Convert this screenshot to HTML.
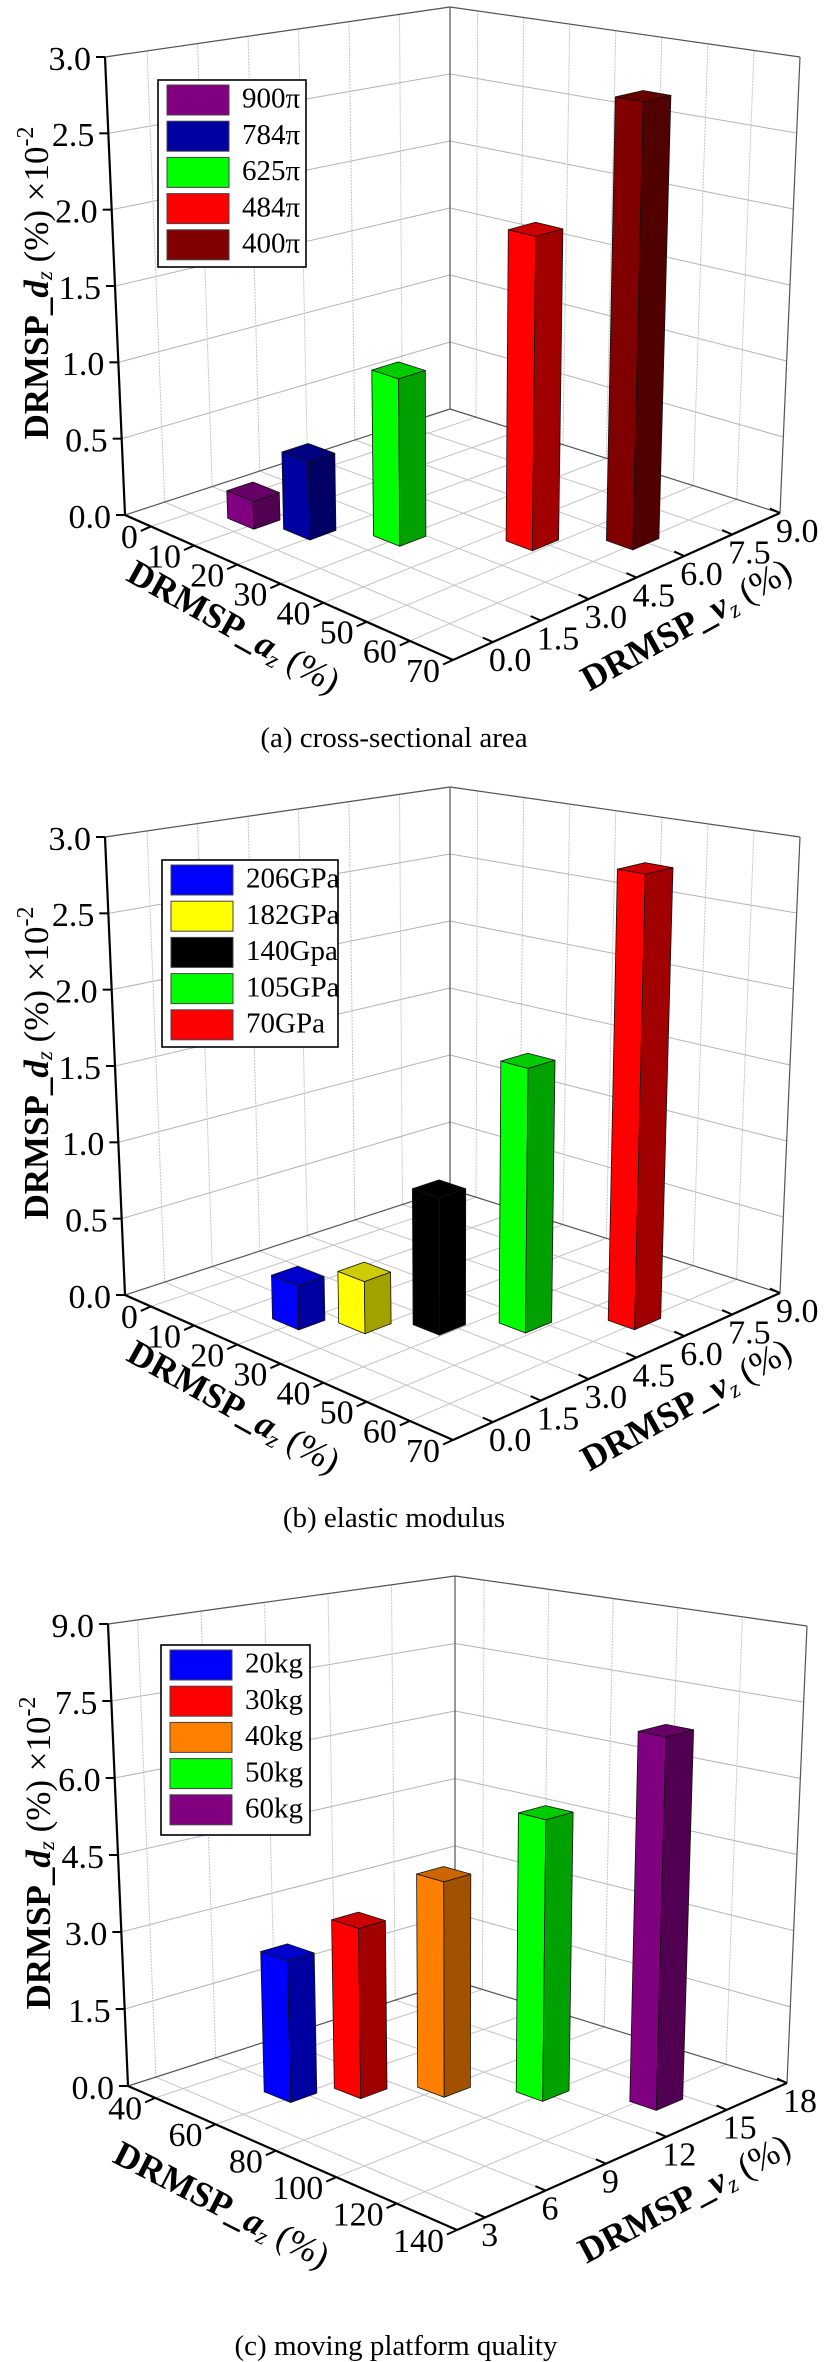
<!DOCTYPE html>
<html><head><meta charset="utf-8"><style>
html,body{margin:0;padding:0;background:#fff;}
svg{display:block;font-family:"Liberation Serif","DejaVu Serif",serif;}
</style></head><body>
<svg id="fig" width="832" height="2362" viewBox="0 0 832 2362" xmlns="http://www.w3.org/2000/svg">
<rect x="0" y="0" width="832" height="2362" fill="#fff"/>
<g id="pa"></g>
<g id="pb"></g>
<g id="pc"></g>

<!-- axis titles panel a -->
<text transform="translate(40,283) rotate(-90)" text-anchor="middle" font-size="35" dominant-baseline="middle"><tspan font-weight="bold">DRMSP_</tspan><tspan font-weight="bold" font-style="italic">d</tspan><tspan font-size="23" font-style="italic" dy="7">z</tspan><tspan dy="-7"> (%)</tspan><tspan> ×10</tspan><tspan font-size="24" dy="-13">-2</tspan></text>
<text transform="translate(232,630) rotate(29)" text-anchor="middle" font-size="36" dominant-baseline="middle"><tspan font-weight="bold">DRMSP_</tspan><tspan font-weight="bold" font-style="italic">a</tspan><tspan font-size="24" font-style="italic" dy="8">z</tspan><tspan dy="-8"> (%)</tspan></text>
<text transform="translate(688,628) rotate(-29)" text-anchor="middle" font-size="36" dominant-baseline="middle"><tspan font-weight="bold">DRMSP_</tspan><tspan font-weight="bold" font-style="italic">v</tspan><tspan font-size="24" font-style="italic" dy="8">z</tspan><tspan dy="-8"> (%)</tspan></text>
<text x="394" y="747" text-anchor="middle" font-size="29">(a) cross-sectional area</text>

<!-- panel b -->
<text transform="translate(40,1063) rotate(-90)" text-anchor="middle" font-size="35" dominant-baseline="middle"><tspan font-weight="bold">DRMSP_</tspan><tspan font-weight="bold" font-style="italic">d</tspan><tspan font-size="23" font-style="italic" dy="7">z</tspan><tspan dy="-7"> (%)</tspan><tspan> ×10</tspan><tspan font-size="24" dy="-13">-2</tspan></text>
<text transform="translate(232,1410) rotate(29)" text-anchor="middle" font-size="36" dominant-baseline="middle"><tspan font-weight="bold">DRMSP_</tspan><tspan font-weight="bold" font-style="italic">a</tspan><tspan font-size="24" font-style="italic" dy="8">z</tspan><tspan dy="-8"> (%)</tspan></text>
<text transform="translate(688,1408) rotate(-29)" text-anchor="middle" font-size="36" dominant-baseline="middle"><tspan font-weight="bold">DRMSP_</tspan><tspan font-weight="bold" font-style="italic">v</tspan><tspan font-size="24" font-style="italic" dy="8">z</tspan><tspan dy="-8"> (%)</tspan></text>
<text x="394" y="1527" text-anchor="middle" font-size="29">(b) elastic modulus</text>

<!-- panel c -->
<text transform="translate(42,1853) rotate(-90)" text-anchor="middle" font-size="35" dominant-baseline="middle"><tspan font-weight="bold">DRMSP_</tspan><tspan font-weight="bold" font-style="italic">d</tspan><tspan font-size="23" font-style="italic" dy="7">z</tspan><tspan dy="-7"> (%)</tspan><tspan> ×10</tspan><tspan font-size="24" dy="-13">-2</tspan></text>
<text transform="translate(220,2208) rotate(27)" text-anchor="middle" font-size="36" dominant-baseline="middle"><tspan font-weight="bold">DRMSP_</tspan><tspan font-weight="bold" font-style="italic">a</tspan><tspan font-size="24" font-style="italic" dy="8">z</tspan><tspan dy="-8"> (%)</tspan></text>
<text transform="translate(686,2202) rotate(-28)" text-anchor="middle" font-size="36" dominant-baseline="middle"><tspan font-weight="bold">DRMSP_</tspan><tspan font-weight="bold" font-style="italic">v</tspan><tspan font-size="24" font-style="italic" dy="8">z</tspan><tspan dy="-8"> (%)</tspan></text>
<text x="396" y="2355" text-anchor="middle" font-size="29">(c) moving platform quality</text>
</svg>
<script>
// ---- data ----
const catsA = ['900π','784π','625π','484π','400π'];
const posA_a = [8.4, 17.6, 29.5, 46.4, 58.6];
const posA_v = [0.85, 1.36, 2.57, 4.44, 5.93];
const valsA = [0.18, 0.50, 1.07, 2.0, 2.85];
const catsB = ['206GPa','182GPa','140Gpa','105GPa','70GPa'];
const posB_a = [19.3, 27.7, 36.6, 46.2, 58.8];
const posB_v = [0.78, 1.72, 2.85, 4.25, 5.96];
const valsB = [0.28, 0.33, 0.87, 1.68, 2.9];
const catsC = ['20kg','30kg','40kg','50kg','60kg'];
const posC_a = [57.7, 67, 80, 98.6, 122.8];
const posC_v = [5.7, 7.8, 10.0, 12.1, 14.1];
const valsC = [2.73, 3.3, 4.19, 5.46, 7.17];
const zTicksAB = [0, 0.5, 1.0, 1.5, 2.0, 2.5, 3.0];
const zTicksC = [0, 1.5, 3.0, 4.5, 6.0, 7.5, 9.0];
const aTicksAB = [0, 10, 20, 30, 40, 50, 60, 70];
const aTicksC = [40, 60, 80, 100, 120, 140];
const vTicksAB = [0, 1.5, 3.0, 4.5, 6.0, 7.5, 9.0];
const vTicksC = [3, 6, 9, 12, 15, 18];
const colA = ['#800080','#0000a0','#00ff00','#ff0000','#800000'];
const colB = ['#0000ff','#ffff00','#000000','#00ff00','#ff0000'];
const colC = ['#0000ff','#ff0000','#ff8000','#00ff00','#800080'];

const NS = 'http://www.w3.org/2000/svg';
function mk(parent, tag, attrs){
  const e = document.createElementNS(NS, tag);
  for (const k in attrs) e.setAttribute(k, attrs[k]);
  parent.appendChild(e);
  return e;
}
function shade(hex, f){
  const n = parseInt(hex.slice(1),16);
  const r = Math.round(((n>>16)&255)*f), g = Math.round(((n>>8)&255)*f), b = Math.round((n&255)*f);
  return 'rgb('+r+','+g+','+b+')';
}
function fmt(t, dec){ return dec ? t.toFixed(1) : String(t); }

function panel(id, key, G, cats, pa, pv, vals, cols, zT, aT, vT, dec, legend){
  const root = document.getElementById(id);
  const bil = (u,w,k) => G.L[k]*(1-u)*(1-w) + G.F[k]*u*(1-w) + G.R[k]*u*w + G.B[k]*(1-u)*w;
  const hL = [G.Lt[0]-G.L[0], G.Lt[1]-G.L[1]], hB = [G.Bt[0]-G.B[0], G.Bt[1]-G.B[1]], hR = [G.Rt[0]-G.R[0], G.Rt[1]-G.R[1]], hF = G.hF;
  const hb = (u,w,k) => hL[k]*(1-u)*(1-w) + hF[k]*u*(1-w) + hR[k]*u*w + hB[k]*(1-u)*w;
  const Puw = (u,w,z) => { const s = z/G.zmax; return [bil(u,w,0)+s*hb(u,w,0), bil(u,w,1)+s*hb(u,w,1)]; };
  const U = a => (a-G.amin)/(G.amax-G.amin);
  const W = v => (v-G.vmin)/(G.vmax-G.vmin);
  const P = (a,v,z) => Puw(U(a),W(v),z);
  const line = (p,q,st,sw,dash) => { const l = mk(root,'line',{x1:p[0],y1:p[1],x2:q[0],y2:q[1],stroke:st,'stroke-width':sw}); if(dash) l.setAttribute('stroke-dasharray',dash); return l; };

  // wall/floor grid
  zT.forEach((z,i)=>{ if(z===0) return;
    let l = line(Puw(0,0,z), Puw(0,1,z), '#b4b4b4', 1);
    
    
    l = line(Puw(0,1,z), Puw(1,1,z), '#b4b4b4', 1);
    
    
  });
  vT.forEach(v=>{ const w=W(v); if (w>0.999) return;
    let l = line(Puw(0,w,0), Puw(0,w,G.zmax), '#c4c4c4', 1, '2,1');
    
    
    l = line(Puw(0,w,0), Puw(1,w,0), '#c4c4c4', 1);
    
    
  });
  aT.forEach(a=>{ const u=U(a); if (u>0.999) return;
    let l = line(Puw(u,1,0), Puw(u,1,G.zmax), '#c4c4c4', 1, '2,1');
    
    
    l = line(Puw(u,0,0), Puw(u,1,0), '#c4c4c4', 1);
    
    
  });
  // box edges
  [[[0,0,G.zmax],[0,1,G.zmax]],[[0,1,G.zmax],[1,1,G.zmax]],[[0,1,0],[0,1,G.zmax]],[[1,1,0],[1,1,G.zmax]],[[0,0,0],[0,1,0]],[[0,1,0],[1,1,0]]].forEach(e=>{
    const l = line(Puw(...e[0]), Puw(...e[1]), '#555', 1.2);
    
    
  });

  // bars
  const du = 0.04, dw = 0.04;
  const order = cats.map((c,i)=>i).sort((i,j)=>(U(pa[i])-W(pv[i]))-(U(pa[j])-W(pv[j])));
  order.forEach(i=>{
    const u=U(pa[i]), w=W(pv[i]), h=vals[i];
    const g = mk(root,'g',{});
    
    
    const pts = arr => arr.map(p=>p[0].toFixed(1)+','+p[1].toFixed(1)).join(' ');
    const c = cols[i];
    const f1 = mk(g,'polygon',{points:pts([Puw(u-du,w-dw,0),Puw(u+du,w-dw,0),Puw(u+du,w-dw,h),Puw(u-du,w-dw,h)]),fill:c,stroke:'#111','stroke-width':0.8,'stroke-linejoin':'round'});
    
    
    const f2 = mk(g,'polygon',{points:pts([Puw(u+du,w-dw,0),Puw(u+du,w+dw,0),Puw(u+du,w+dw,h),Puw(u+du,w-dw,h)]),fill:shade(c,0.63),stroke:'#111','stroke-width':0.8,'stroke-linejoin':'round'});
    
    
    const f3 = mk(g,'polygon',{points:pts([Puw(u-du,w-dw,h),Puw(u+du,w-dw,h),Puw(u+du,w+dw,h),Puw(u-du,w+dw,h)]),fill:shade(c,0.8),stroke:'#111','stroke-width':0.8,'stroke-linejoin':'round'});
    
    
  });

  // axes
  let ax = line(Puw(0,0,0), Puw(0,0,G.zmax), '#000', 2.2);
  
  
  ax = line(Puw(0,0,0), Puw(1,0,0), '#000', 2.2);
  
  
  ax = line(Puw(1,0,0), Puw(1,1,0), '#000', 2.2);
  
  

  zT.forEach(z=>{
    const p = Puw(0,0,z);
    const t = line(p,[p[0]-9,p[1]],'#000',2);
    
    
    const tx = mk(root,'text',{x:p[0]-14,y:p[1]+5,'text-anchor':'end','dominant-baseline':'middle','font-size':34});
    tx.textContent = z.toFixed(1);
    
    
  });
  const dFR = [G.F[0]-G.R[0], G.F[1]-G.R[1]], nFR = Math.hypot(...dFR);
  aT.forEach(a=>{
    const p = P(a,G.vmin,0);
    const t = line(p,[p[0]+dFR[0]/nFR*11,p[1]+dFR[1]/nFR*11],'#000',2);
    
    
    const tx = mk(root,'text',{x:p[0]-13,y:p[1]+14,'text-anchor':'end','dominant-baseline':'middle','font-size':34});
    tx.textContent = fmt(a,false);
    
    
  });
  const dFL = [G.L[0]-G.F[0], G.L[1]-G.F[1]], nFL = Math.hypot(...dFL);
  vT.forEach(v=>{
    const p = P(G.amax,v,0);
    const t = line(p,[p[0]+dFL[0]/nFL*11,p[1]+dFL[1]/nFL*11],'#000',2);
    
    
    const tx = mk(root,'text',{x:p[0]-4,y:p[1]+21,'text-anchor':'start','dominant-baseline':'middle','font-size':34});
    tx.textContent = fmt(v,dec);
    
    
  });

  // legend
  const lg = mk(root,'g',{});
  
  
  const box = mk(lg,'rect',{x:legend.x,y:legend.y,width:legend.w,height:legend.h,fill:'#fff',stroke:'#000','stroke-width':1.6});
  
  
  cats.forEach((c,i)=>{
    const y = legend.y + 5 + i*36.2;
    const sw = mk(lg,'rect',{x:legend.x+9,y:y,width:62,height:30,fill:cols[i],stroke:'#444','stroke-width':1});
    
    
    const tx = mk(lg,'text',{x:legend.x+84,y:y+16,'dominant-baseline':'middle','font-size':29});
    tx.textContent = c;
    
    
  });
}

const GA = {L:[125,515],F:[453,660],R:[780,513],B:[450,409],Lt:[105,57],Bt:[450,7],Rt:[800,57],hF:[0,-520],amin:-6,amax:70,vmin:-1.25,vmax:9,zmax:3};
const off = (G,dy) => ({...G, L:[G.L[0],G.L[1]+dy], F:[G.F[0],G.F[1]+dy], R:[G.R[0],G.R[1]+dy], B:[G.B[0],G.B[1]+dy], Lt:[G.Lt[0],G.Lt[1]+dy], Bt:[G.Bt[0],G.Bt[1]+dy], Rt:[G.Rt[0],G.Rt[1]+dy]});
const GB = off(GA, 780);
const GC = {L:[128,2086],F:[457,2230],R:[787,2083],B:[455,1981],Lt:[108,1624],Bt:[455,1576],Rt:[807,1626],hF:[0,-522],amin:31,amax:140,vmin:1.6,vmax:18,zmax:9};

panel('pa','panel-a',GA,catsA,posA_a,posA_v,valsA,colA,zTicksAB,aTicksAB,vTicksAB,true,{x:158,y:80,w:148,h:187});
panel('pb','panel-b',GB,catsB,posB_a,posB_v,valsB,colB,zTicksAB,aTicksAB,vTicksAB,true,{x:162,y:860,w:176,h:187});
panel('pc','panel-c',GC,catsC,posC_a,posC_v,valsC,colC,zTicksC,aTicksC,vTicksC,false,{x:161,y:1645,w:149,h:190});
</script>
</body></html>
